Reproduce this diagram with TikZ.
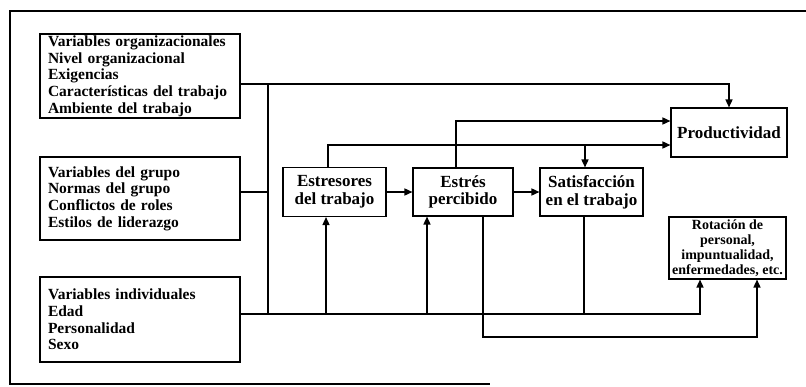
\documentclass[tikz,border=0pt]{standalone}
\usepackage{fontspec}
\setmainfont{Liberation Serif}
\usetikzlibrary{arrows.meta}
\tikzset{
  varbox/.style={draw,line width=1.1pt,text width=184pt,inner xsep=8pt,
                 inner ysep=0pt,align=left,
                 font=\bfseries\fontsize{15.5}{16.7}\selectfont},
  proc/.style={draw,line width=1.1pt,inner sep=1pt,align=center,
               font=\bfseries\fontsize{17}{17.7}\selectfont},
  outc/.style={proc,font=\bfseries\fontsize{14}{15}\selectfont},
  wire/.style={line width=1.5pt},
  edge/.style={wire,-{Triangle[length=8pt,width=7pt]}},
}

\begin{document}
\begin{tikzpicture}[x=1pt,y=-1pt]
\useasboundingbox (0,0) rectangle (806,386);
% frame
\draw[line width=1.2pt] (806,11) -- (10,11) -- (10,384) -- (490,384);

% variable boxes
\node[varbox,minimum height=84pt] (org) at (140,76)
  {Variables organizacionales\\Nivel organizacional\\Exigencias\\Características del trabajo\\Ambiente del trabajo};
\node[varbox,minimum height=83pt] (grp) at (140,198.5)
  {Variables del grupo\\Normas del grupo\\Conflictos de roles\\Estilos de liderazgo};
\node[varbox,minimum height=85pt] (ind) at (140,319.5)
  {Variables individuales\\Edad\\Personalidad\\Sexo};

% process and outcome boxes
\node[proc,minimum width=103pt,minimum height=49pt] (estr) at (334.5,192) {Estresores\\del trabajo};
\node[proc,minimum width=100pt,minimum height=48pt] (perc) at (463,192) {Estrés\\percibido};
\node[proc,minimum width=103pt,minimum height=48pt] (sat) at (591.5,192) {Satisfacción\\en el trabajo};
\node[proc,minimum width=116pt,minimum height=49pt] (prod) at (729,132.5) {Productividad};
\node[outc,minimum width=117pt,minimum height=62pt] (rot) at (727.5,248)
  {Rotación de\\personal,\\impuntualidad,\\enfermedades, etc.};

\coordinate (busT) at (268,84);
\coordinate (busB) at (268,314);
\coordinate (lowB) at (483,337);
\coordinate (midL) at ([yshift=-12.5pt]prod.west);

% connectors
\draw[edge] (org.east |- busT) -| (prod.north);
\draw[wire] (busT) -- (busB);
\draw[wire] (grp.east |- estr.west) -- (busT |- estr.west);
\draw[edge] (ind.east |- busB) -| ([xshift=-27.5pt]rot.south);
\draw[edge] ([xshift=-8.5pt]estr.south |- busB) -- ([xshift=-8.5pt]estr.south);
\draw[edge] ([xshift=-36pt]perc.south |- busB) -- ([xshift=-36pt]perc.south);
\draw[wire] ([xshift=-7.5pt]sat.south) -- ([xshift=-7.5pt]sat.south |- busB);
\draw[edge] (estr.east) -- (perc.west);
\draw[edge] (perc.east) -- (sat.west);
\draw[edge] ([xshift=-6.5pt]estr.north) |- (midL);
\draw[edge] ([xshift=-6.5pt]sat.north |- midL) -- ([xshift=-6.5pt]sat.north);
\draw[edge] ([xshift=-7pt]perc.north) |- ([yshift=11.5pt]prod.west);
\draw[edge] ([xshift=20pt]perc.south) -- (lowB) -| ([xshift=29.5pt]rot.south);
\end{tikzpicture}
\end{document}
